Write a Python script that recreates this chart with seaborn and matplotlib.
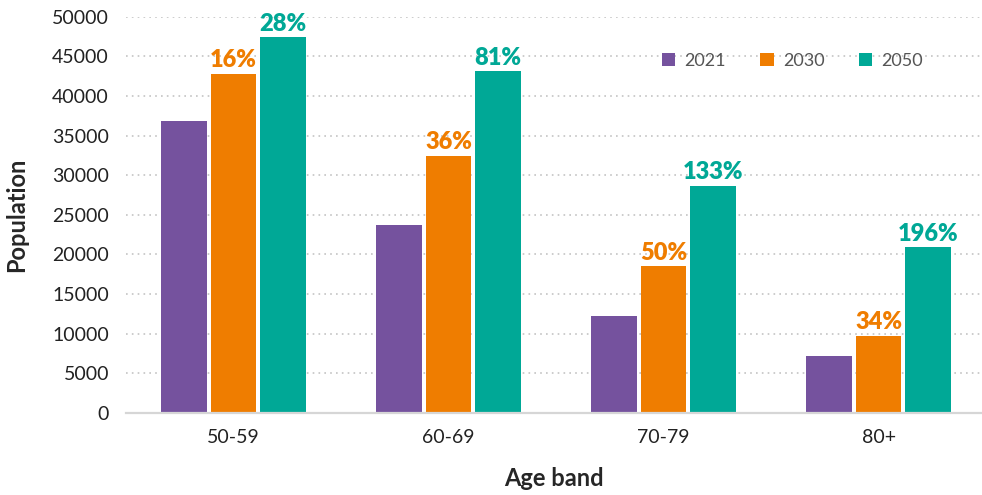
import matplotlib
matplotlib.use("Agg")
import matplotlib.pyplot as plt
import seaborn as sns
import pandas as pd

# data
age_bands = ["50-59", "60-69", "70-79", "80+"]
years = ["2021", "2030", "2050"]
pop_2021 = [36800, 23700, 12200, 7200]
pop_2030 = [42800, 32400, 18500, 9700]
pop_2050 = [47400, 43100, 28700, 20900]
pct_2030 = ["16%", "36%", "50%", "34%"]
pct_2050 = ["28%", "81%", "133%", "196%"]

colours = {"2021": "#75529E", "2030": "#EF7D00", "2050": "#00A896"}

rows = []
for yr, vals in zip(years, [pop_2021, pop_2030, pop_2050]):
	for band, v in zip(age_bands, vals):
		rows.append({"Age band": band, "Year": yr, "Population": v})
df = pd.DataFrame(rows)

sns.set_style("white")
plt.rcParams["font.family"] = ["Lato", "DejaVu Sans"]

fig = plt.figure(figsize=(9.82, 4.95), dpi=100)
ax = fig.add_axes([0.128, 0.166, 0.872, 0.8])

sns.barplot(data=df, x="Age band", y="Population", hue="Year",
	palette=colours, saturation=1, width=0.69, gap=0.08, ax=ax, linewidth=0)

ax.set_ylim(0, 50000)
ax.set_xlim(-0.5, 3.48)
ax.set_yticks(range(0, 50001, 5000))

# dotted grid
ax.yaxis.grid(True, linestyle=(0, (1, 2.5)), color="#c4c4c4", linewidth=1.2)
ax.set_axisbelow(True)
for side in ["top", "right", "left"]:
	ax.spines[side].set_visible(False)
ax.spines["bottom"].set_color("#d6d6d6")
ax.spines["bottom"].set_linewidth(1.6)
ax.tick_params(axis="both", length=0, labelsize=14, colors="#222222")
ax.tick_params(axis="x", pad=12)
ax.tick_params(axis="y", pad=12)

ax.set_xlabel("Age band", fontsize=17, fontweight="bold", labelpad=15)
ax.set_ylabel("Population", fontsize=17, fontweight="bold", labelpad=17)

# percentage change labels
ax.bar_label(ax.containers[1], labels=pct_2030, padding=2, fontsize=17,
	fontweight="heavy", color=colours["2030"])
ax.bar_label(ax.containers[2], labels=pct_2050, padding=2, fontsize=17,
	fontweight="heavy", color=colours["2050"])

leg = ax.legend(loc="upper right", bbox_to_anchor=(0.95, 0.95), ncol=3,
	frameon=False, fontsize=13, handlelength=0.75, handleheight=0.75,
	columnspacing=1.9, handletextpad=0.5)
for t in leg.get_texts():
	t.set_color("#555555")

fig.savefig("out.png", dpi=100)
